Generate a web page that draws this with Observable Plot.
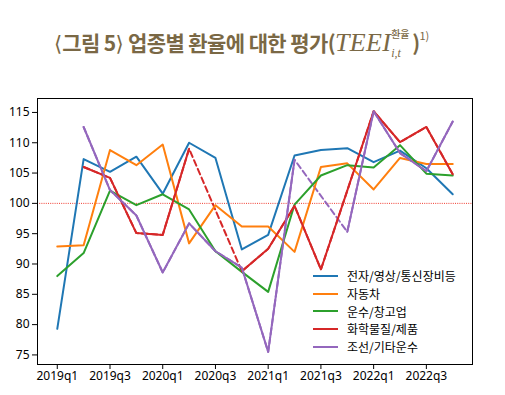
<!DOCTYPE html>
<html>
<head>
<meta charset="utf-8">
<script src="https://cdn.jsdelivr.net/npm/d3@7"></script>
<script src="https://cdn.jsdelivr.net/npm/@observablehq/plot@0.6"></script>
<style>
  html, body { margin: 0; padding: 0; background: #fff; }
  #wrap { position: relative; width: 505px; height: 395px; overflow: hidden; }
  #title { position: absolute; left: 54px; top: 27px; height: 30px; font-family: "Noto Sans CJK KR", sans-serif; font-weight: 700; font-size: 21px; line-height: 30px; color: #7a6845; letter-spacing: -0.6px; white-space: nowrap; }
  #title .br { font-family: "DejaVu Sans", sans-serif; font-weight: 400; letter-spacing: 0; }
  #title .m { font-family: "Liberation Serif", serif; font-style: italic; font-weight: 400; font-size: 26px; letter-spacing: 0.3px; }
  #title .ss { display: inline-block; position: relative; width: 21px; height: 30px; vertical-align: top; }
  #title .ss span { position: absolute; left: 0; font-size: 10px; line-height: 10px; letter-spacing: 0; }
  #title .up { top: 2px; font-weight: 500; }
  #title .dn { top: 21px; font-family: "Liberation Serif", serif; font-style: italic; font-weight: 400; font-size: 12px !important; }
  #title .fn { display: inline-block; font-size: 11px; line-height: 11px; vertical-align: top; margin-top: 3px; font-weight: 400; letter-spacing: 0; }
  #chart { position: absolute; left: 0; top: 70px; }
  #legend { position: absolute; left: 313px; top: 267px; font-family: "Noto Sans CJK KR", sans-serif; font-size: 12px; color: #000; }
  #legend .row { display: flex; align-items: center; height: 17.7px; }
  #legend .sw { width: 25px; height: 2px; margin-right: 9px; }
</style>
</head>
<body>
<div id="wrap">
  <div id="title"><span class="br">⟨</span>그림 5<span class="br">⟩</span> 업종별 환율에 대한 평가(<span class="m">TEEI</span><span class="ss"><span class="up">환율</span><span class="dn">i,t</span></span>)<span class="fn">1)</span></div>
  <div id="chart"></div>
  <div id="legend"></div>
</div>
<script>
const quarters = ["2019q1","2019q2","2019q3","2019q4","2020q1","2020q2","2020q3","2020q4",
                  "2021q1","2021q2","2021q3","2021q4","2022q1","2022q2","2022q3","2022q4"];
const seriesNames = ["전자/영상/통신장비등","자동차","운수/창고업","화학물질/제품","조선/기타운수"];
const seriesColors = ["#1f77b4","#ff7f0e","#2ca02c","#d62728","#9467bd"];
const elec  = [79.3,107.3,105.2,107.7,101.6,110.0,107.5,92.4,94.8,107.9,108.8,109.1,106.8,108.7,105.8,101.5];
const auto  = [92.9,93.1,108.8,106.3,109.7,93.4,99.7,96.2,96.2,92.0,106.0,106.6,102.3,107.5,106.5,106.5];
const trans = [88.0,91.8,102.1,99.7,101.5,99.0,92.1,88.7,85.4,99.8,104.6,106.3,105.9,109.6,104.9,104.6];
const chem  = [null,106.0,104.2,95.1,94.8,109.0,null,88.8,92.5,99.6,89.1,102.1,115.2,110.1,112.6,104.8];
const ship  = [null,112.6,102.2,98.0,88.6,96.7,92.1,89.4,75.5,107.2,null,95.3,115.2,108.3,105.3,113.5];
const tickLabels = ["2019q1","2019q3","2020q1","2020q3","2021q1","2021q3","2022q1","2022q3"];
const yTicks = [75,80,85,90,95,100,105,110,115];
const refValue = 100;

const allSeries = [elec, auto, trans, chem, ship];
const rows = [];
allSeries.forEach((arr, s) => arr.forEach((v, i) => rows.push({series: seriesNames[s], i, q: quarters[i], v})));
const defined = rows.filter(d => d.v != null);
const gapSeries = seriesNames.filter((n, s) => allSeries[s].some((v, i) => v == null && i > 0 && i < allSeries[s].length - 1 && allSeries[s].slice(0, i).some(x => x != null)));
const dashedRows = defined.filter(d => gapSeries.includes(d.series));
const tickIdx = tickLabels.map(t => quarters.indexOf(t));

const chart = Plot.plot({
  width: 505,
  height: 325,
  marginLeft: 37,
  marginRight: 33,
  marginTop: 28,
  marginBottom: 31,
  style: {fontFamily: "'Noto Sans', 'Noto Sans CJK KR', sans-serif", fontSize: "12px", color: "#000", background: "transparent"},
  x: {domain: [-0.75, quarters.length - 0.25], label: null},
  y: {domain: [73.42, 117.3], label: null},
  color: {domain: seriesNames, range: seriesColors},
  marks: [
    Plot.ruleY([refValue], {stroke: "#f03a2e", strokeWidth: 1, strokeDasharray: "1,1.2"}),
    Plot.line(dashedRows, {x: "i", y: "v", z: "series", stroke: "series", strokeWidth: 2, strokeDasharray: "6,3.5"}),
    Plot.line(rows, {x: "i", y: "v", z: "series", stroke: "series", strokeWidth: 2}),
    Plot.frame({stroke: "#000", strokeWidth: 1}),
    Plot.axisX({ticks: tickIdx, tickFormat: i => quarters[i], tickSize: 5, tickPadding: 2, stroke: "#000", label: null}),
    Plot.axisY({ticks: yTicks, tickSize: 5, tickPadding: 3, stroke: "#000", label: null})
  ]
});
document.getElementById("chart").appendChild(chart);

const legend = document.getElementById("legend");
seriesNames.forEach((n, s) => {
  const row = document.createElement("div");
  row.className = "row";
  const sw = document.createElement("div");
  sw.className = "sw";
  sw.style.background = seriesColors[s];
  const t = document.createElement("span");
  t.textContent = n;
  row.appendChild(sw); row.appendChild(t);
  legend.appendChild(row);
});
</script>
</body>
</html>
